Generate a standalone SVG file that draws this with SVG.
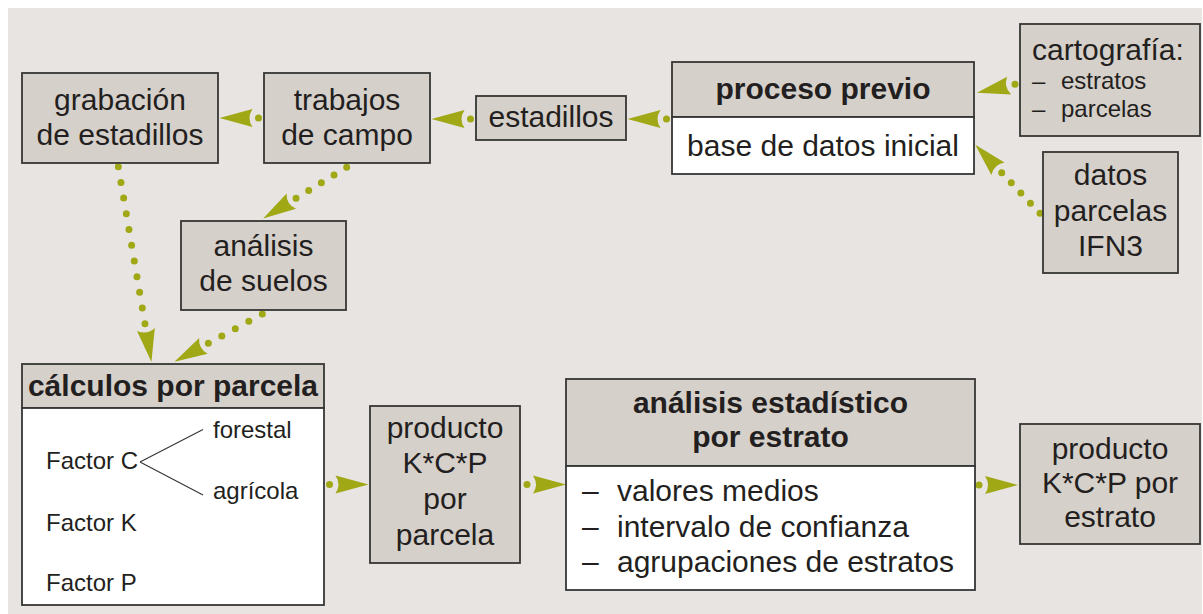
<svg xmlns="http://www.w3.org/2000/svg" width="1203" height="614" viewBox="0 0 1203 614">
<style>
.bg{fill:#e7e4e1}
.box{fill:#d6d0ca;stroke:#363636;stroke-width:1.8}
.wbox{fill:#ffffff;stroke:#363636;stroke-width:1.8}
text{font-family:"Liberation Sans",Arial,sans-serif;fill:#231f20}
.t{font-size:30px;text-anchor:middle}
.b{font-size:30px;font-weight:bold;text-anchor:middle}
.l{font-size:30px;text-anchor:start}
.s{font-size:24px;text-anchor:start}
.conn{fill:none;stroke:#a0a815;stroke-width:7;stroke-linecap:round}
.br{fill:none;stroke:#333333;stroke-width:1.1}
</style>
<defs>
<marker id="ah" markerUnits="userSpaceOnUse" orient="auto" refX="0" refY="0" markerWidth="50" markerHeight="30" overflow="visible">
<path d="M38.5,0 L5.5,-9 Q11.5,0 5.5,9 Z" fill="#a0a815"/>
</marker>
</defs>
<rect class="bg" x="8" y="8" width="1194" height="606"/>

<g id="connectors">
<path class="conn" style="stroke-dasharray:0 100" marker-end="url(#ah)" d="M258.5,118 l-0.5,0"/>
<path class="conn" style="stroke-dasharray:0 100" marker-end="url(#ah)" d="M470.5,119 l-0.5,0"/>
<path class="conn" style="stroke-dasharray:0 100" marker-end="url(#ah)" d="M666.5,119 l-0.5,0"/>
<path class="conn" style="stroke-dasharray:0 100" marker-end="url(#ah)" d="M1015,84.3 l-0.49,0.11"/>
<path class="conn" style="stroke-dasharray:0 13.95" marker-end="url(#ah)" d="M1040,213.3 L1001.7,172.7"/>
<path class="conn" style="stroke-dasharray:0 14.85" marker-end="url(#ah)" d="M346.7,167.3 L296,198.3"/>
<path class="conn" style="stroke-dasharray:0 15.93" marker-end="url(#ah)" d="M118.3,166.7 L145,324"/>
<path class="conn" style="stroke-dasharray:0 15.35" marker-end="url(#ah)" d="M262.3,314 L208.3,343.3"/>
<path class="conn" style="stroke-dasharray:0 100" marker-end="url(#ah)" d="M329.5,484.5 l0.5,0"/>
<path class="conn" style="stroke-dasharray:0 100" marker-end="url(#ah)" d="M527,484.5 l0.5,0"/>
<path class="conn" style="stroke-dasharray:0 100" marker-end="url(#ah)" d="M979,485 l0.5,0"/>
</g>

<g id="grabacion">
<rect class="box" x="22" y="73" width="196" height="90"/>
<text class="t" x="120" y="110">grabación</text>
<text class="t" x="120" y="145">de estadillos</text>
</g>

<g id="trabajos">
<rect class="box" x="264" y="73" width="166" height="90"/>
<text class="t" x="347" y="110">trabajos</text>
<text class="t" x="347" y="145">de campo</text>
</g>

<g id="estadillos">
<rect class="box" x="476" y="96" width="150" height="44"/>
<text class="t" x="551" y="127">estadillos</text>
</g>

<g id="proceso">
<rect class="box" x="672" y="62" width="302" height="55"/>
<rect class="wbox" x="672" y="117" width="302" height="57"/>
<text class="b" x="823" y="99">proceso previo</text>
<text class="t" x="823" y="156">base de datos inicial</text>
</g>

<g id="cartografia">
<rect class="box" x="1020" y="24" width="180" height="112"/>
<text class="l" x="1032" y="60">cartografía:</text>
<text class="s" x="1032" y="89">–</text>
<text class="s" x="1061" y="89">estratos</text>
<text class="s" x="1032" y="117">–</text>
<text class="s" x="1061" y="117">parcelas</text>
</g>

<g id="datos">
<rect class="box" x="1043" y="152" width="135" height="121"/>
<text class="t" x="1110.5" y="185">datos</text>
<text class="t" x="1110.5" y="221">parcelas</text>
<text class="t" x="1110.5" y="256">IFN3</text>
</g>

<g id="suelos">
<rect class="box" x="181" y="221" width="165" height="89"/>
<text class="t" x="263.5" y="256">análisis</text>
<text class="t" x="263.5" y="291">de suelos</text>
</g>

<g id="calculos">
<rect class="box" x="22" y="364" width="302" height="44"/>
<rect class="wbox" x="22" y="408" width="302" height="197"/>
<text class="b" x="173" y="396">cálculos por parcela</text>
<text class="s" x="46" y="469">Factor C</text>
<path class="br" d="M140,462 L203,429.5 M140,462 L203,495"/>
<text class="s" x="213" y="438">forestal</text>
<text class="s" x="213" y="499">agrícola</text>
<text class="s" x="46" y="531">Factor K</text>
<text class="s" x="46" y="591">Factor P</text>
</g>

<g id="producto-parcela">
<rect class="box" x="370" y="406" width="150" height="157"/>
<text class="t" x="445" y="438">producto</text>
<text class="t" x="445" y="473">K*C*P</text>
<text class="t" x="445" y="509">por</text>
<text class="t" x="445" y="545">parcela</text>
</g>

<g id="analisis-estadistico">
<rect class="box" x="566" y="379" width="409" height="87"/>
<rect class="wbox" x="566" y="466" width="409" height="124"/>
<text class="b" x="770.5" y="413">análisis estadístico</text>
<text class="b" x="770.5" y="447">por estrato</text>
<text class="l" x="582" y="501">–</text>
<text class="l" x="617" y="501">valores medios</text>
<text class="l" x="582" y="537">–</text>
<text class="l" x="617" y="537">intervalo de confianza</text>
<text class="l" x="582" y="572">–</text>
<text class="l" x="617" y="572">agrupaciones de estratos</text>
</g>

<g id="producto-estrato">
<rect class="box" x="1020" y="424" width="180" height="120"/>
<text class="t" x="1110" y="459">producto</text>
<text class="t" x="1110" y="493">K*C*P por</text>
<text class="t" x="1110" y="527">estrato</text>
</g>
</svg>
